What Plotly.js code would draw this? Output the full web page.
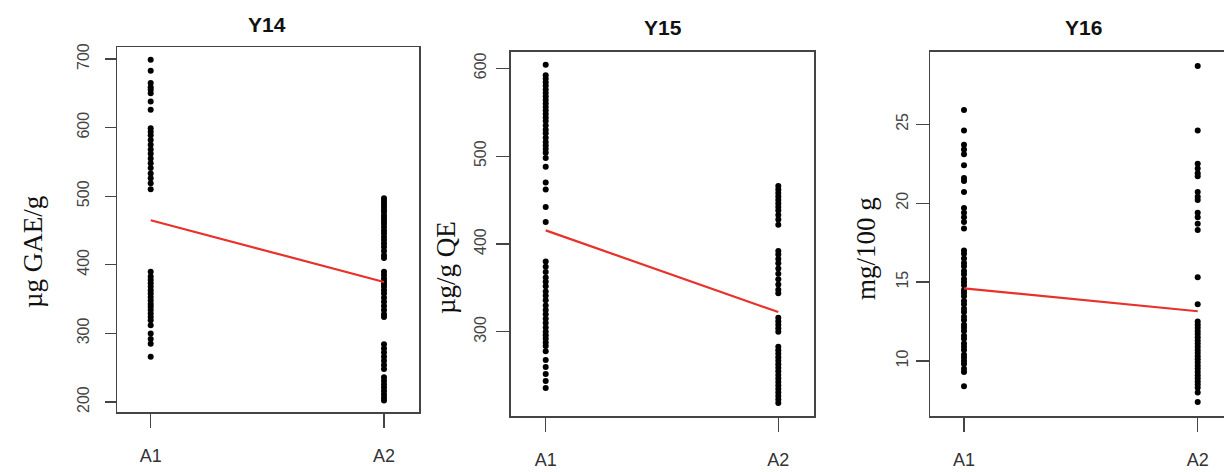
<!DOCTYPE html>
<html>
<head>
<meta charset="utf-8">
<script src="https://cdn.plot.ly/plotly-3.0.1.min.js"></script>
<style>html,body{margin:0;padding:0;background:#fff;}#chart{width:1224px;height:472px;}</style>
</head>
<body>
<div id="chart"></div>
<script>
const categories = ['A1', 'A2'];
const panelTitles = ['Y14', 'Y15', 'Y16'];
const yLabels = ['µg GAE/g', 'µg/g QE', 'mg/100 g'];

// Y14 (µg GAE/g)
const y14_A1 = [699, 683, 665, 659, 655, 650, 638, 626, 599, 594, 589, 582, 575, 568, 562, 555, 548, 541, 533, 526, 519, 510,
  390, 383, 378, 373, 368, 363, 358, 353, 348, 343, 339, 334, 329, 324, 319, 312, 300, 292, 285, 266];
const y14_A2 = [497, 493, 489, 485, 481, 477, 472, 468, 464, 460, 455, 450, 446, 441, 436, 431, 426, 420, 414, 410,
  390, 385, 380, 376, 372, 368, 363, 358, 352, 346, 340, 334, 328, 324,
  284, 278, 272, 266, 260, 254, 248, 236, 231, 226, 221, 216, 211, 206, 202];
const y14_mean = [465, 375];

// Y15 (µg/g QE)
const y15_A1 = [604, 592, 588, 584, 580, 576, 572, 568, 564, 560, 556, 552, 548, 544, 540, 535, 530, 526, 521, 516, 512, 508, 504, 498, 488, 470, 462, 442, 425,
  380, 374, 368, 362, 357, 352, 346, 341, 336, 330, 325, 320, 315, 310, 305, 300, 296, 292, 288, 284, 278, 268, 260, 252, 244, 236];
const y15_A2 = [466, 462, 458, 454, 450, 446, 442, 438, 433, 428, 422,
  392, 388, 383, 378, 372, 366, 360, 354, 348, 344,
  316, 312, 308, 304, 300,
  283, 279, 275, 271, 267, 263, 259, 255, 251, 247, 243, 239, 235, 231, 227, 223, 219];
const y15_mean = [415.5, 322.5];

// Y16 (mg/100 g)
const y16_A1 = [25.9, 24.6, 23.7, 23.4, 23.1, 22.4, 21.6, 21.4, 20.7, 19.7, 19.4, 19.1, 18.8, 18.4,
  17.0, 16.8, 16.5, 16.2, 16.0, 15.7, 15.5, 15.2, 15.0, 14.8, 14.5, 14.3, 14.1, 13.8, 13.6, 13.3, 13.1, 12.8, 12.6, 12.3, 12.1, 11.9, 11.6, 11.4, 11.1, 10.9, 10.7, 10.4, 10.2, 10.0, 9.8, 9.5, 9.3, 8.4];
const y16_A2 = [28.7, 24.6, 22.5, 22.2, 21.9, 21.7, 20.7, 20.4, 20.2, 19.4, 19.1, 18.7, 18.3, 15.3, 13.6,
  12.5, 12.3, 12.1, 11.9, 11.7, 11.5, 11.3, 11.1, 10.9, 10.7, 10.5, 10.3, 10.1, 9.9, 9.7, 9.5, 9.3, 9.1, 8.9, 8.7, 8.5, 8.3, 8.0, 7.4];
const y16_mean = [14.6, 13.15];

const panels = [
  {a1: y14_A1, a2: y14_A2, mean: y14_mean},
  {a1: y15_A1, a2: y15_A2, mean: y15_mean},
  {a1: y16_A1, a2: y16_A2, mean: y16_mean}
];

const W = 1224, H = 472;
const px = v => v / W;
const py = v => (H - v) / H;

// layout geometry (pixels)
const geo = [
  {l: 117, r: 419, t: 47, b: 412, xr: [-0.1444, 1.150], yr: [185.4, 717.5], dt: 100, ystand: 9, ylen: 11, mirrorY: true,
   title: [267, 25], lab: [33, 252]},
  {l: 510.7, r: 814, t: 51.7, b: 416, xr: [-0.1505, 1.1535], yr: [204.2, 618.9], dt: 100, ystand: 4, ylen: 13, mirrorY: true,
   title: [663, 28], lab: [446, 268]},
  {l: 930, r: 1224, t: 51.7, b: 416, xr: [-0.1455, 1.1125], yr: [6.51, 29.6], dt: 5, ystand: 1, ylen: 13, mirrorY: false,
   title: [1083, 28], lab: [866, 249]}
];

const traces = [];
const layout = {
  width: W, height: H,
  margin: {l: 0, r: 0, t: 0, b: 0},
  paper_bgcolor: '#ffffff', plot_bgcolor: '#ffffff',
  showlegend: false,
  font: {family: 'Liberation Sans, Arial, sans-serif', color: '#333'},
  annotations: []
};

panels.forEach((p, i) => {
  const n = i + 1;
  const xa = 'x' + (n === 1 ? '' : n), ya = 'y' + (n === 1 ? '' : n);
  const g = geo[i];
  traces.push({
    type: 'scatter', mode: 'markers', xaxis: xa, yaxis: ya,
    x: p.a1.map(() => categories[0]).concat(p.a2.map(() => categories[1])),
    y: p.a1.concat(p.a2),
    marker: {color: '#000', size: 6},
    hoverinfo: 'skip'
  });
  traces.push({
    type: 'scatter', mode: 'lines', xaxis: xa, yaxis: ya,
    x: categories, y: p.mean,
    line: {color: '#e8312a', width: 2.2},
    hoverinfo: 'skip'
  });
  layout['xaxis' + (n === 1 ? '' : n)] = {
    domain: [px(g.l), px(g.r)], anchor: ya,
    type: 'category', categoryorder: 'array', categoryarray: categories,
    range: g.xr, showgrid: false, zeroline: false,
    showline: true, mirror: true, linecolor: '#444', linewidth: 1.5,
    ticks: 'outside', ticklen: 14, tickwidth: 1.2, tickcolor: '#444',
    ticklabelstandoff: 13,
    tickfont: {size: 18, color: '#333', family: 'Liberation Sans, Arial, sans-serif'}
  };
  layout['yaxis' + (n === 1 ? '' : n)] = {
    domain: [py(g.b), py(g.t)], anchor: xa,
    range: g.yr, tick0: 0, dtick: g.dt, showgrid: false, zeroline: false,
    showline: true, mirror: g.mirrorY, linecolor: '#444', linewidth: 1.5,
    ticks: 'outside', ticklen: g.ylen, tickwidth: 1.2, tickcolor: '#444',
    tickangle: -90, ticklabelstandoff: g.ystand,
    tickfont: {size: 16, color: '#444', family: 'Liberation Sans, Arial, sans-serif'}
  };
  layout.annotations.push({
    xref: 'paper', yref: 'paper', x: px(g.title[0]), y: py(g.title[1]),
    xanchor: 'center', yanchor: 'middle', showarrow: false,
    text: '<b>' + panelTitles[i] + '</b>',
    font: {size: 21, color: '#111', family: 'Liberation Sans, Arial, sans-serif'}
  });
  layout.annotations.push({
    xref: 'paper', yref: 'paper', x: px(g.lab[0]), y: py(g.lab[1]),
    xanchor: 'center', yanchor: 'middle', showarrow: false, textangle: -90,
    text: yLabels[i],
    font: {size: 27, color: '#111', family: 'Liberation Serif, Times New Roman, serif'}
  });
});

Plotly.newPlot('chart', traces, layout, {staticPlot: true, displayModeBar: false});
</script>
</body>
</html>
